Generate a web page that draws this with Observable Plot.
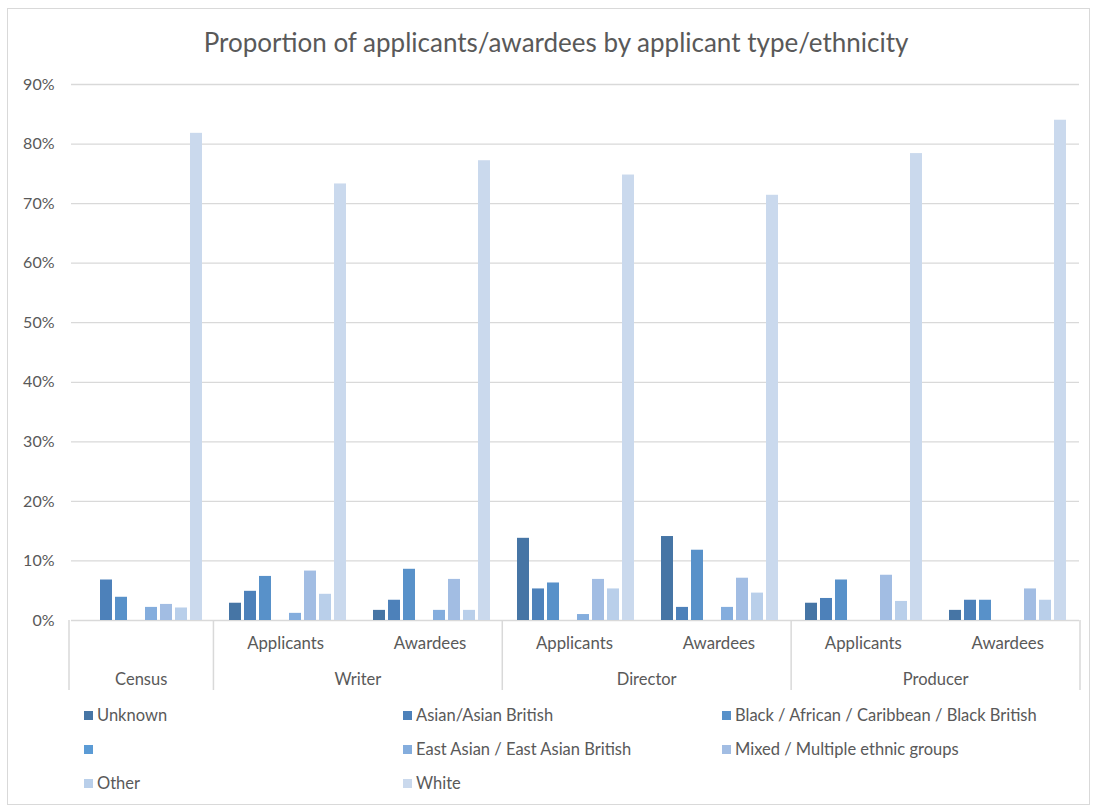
<!DOCTYPE html>
<html>
<head>
<meta charset="utf-8">
<script src="https://cdn.jsdelivr.net/npm/d3@7"></script>
<script src="https://cdn.jsdelivr.net/npm/@observablehq/plot@0.6"></script>
<style>
  html, body { margin: 0; padding: 0; background: #fff; }
  body { width: 1095px; height: 807px; position: relative; overflow: hidden;
         font-family: Lato, "Open Sans", sans-serif; color: #595959; }
  #frame { position: absolute; left: 7px; top: 8px; width: 1083px; height: 797px;
           border: 1px solid #d9d9d9; box-sizing: border-box; }
  #title { position: absolute; left: 0; top: 25px; width: 1112px; text-align: center;
           font-size: 26px; line-height: 34px; color: #595959; }
  #chart { position: absolute; left: 0; top: 0; }
  #legend { position: absolute; left: 84px; top: 705px; display: grid;
            grid-template-columns: 319px 319px 340px; grid-auto-rows: 34px; }
  .item { display: flex; align-items: center; height: 20px; font-size: 16.5px;
          white-space: nowrap; color: #595959; }
  .sw { width: 9px; height: 9px; margin-right: 4px; flex: none; }
</style>
</head>
<body>
<div id="frame"></div>
<div id="title">Proportion of applicants/awardees by applicant type/ethnicity</div>
<div id="chart"></div>
<div id="legend"></div>
<script>
// Category axis: applicant type (outer level) and stage (inner level)
const roles  = ["Census", "Writer", "Writer", "Director", "Director", "Producer", "Producer"];
const stages = ["", "Applicants", "Awardees", "Applicants", "Awardees", "Applicants", "Awardees"];

// Ethnicity series (one entry is left unnamed in the source table)
const seriesNames  = ["Unknown", "Asian/Asian British", "Black / African / Caribbean / Black British", "",
                      "East Asian / East Asian British", "Mixed / Multiple ethnic groups", "Other", "White"];
const seriesColors = ["#4675a5", "#4d81ba", "#5891c9", "#5b9bd5", "#84addd", "#a2bde3", "#b9cfea", "#cad9ed"];

// Percentages per category, in the order of the category arrays above
const unknownPct   = [0,    2.9,  1.7,  13.8, 14.1, 2.9,  1.7];
const asianPct     = [6.8,  4.9,  3.4,  5.3,  2.2,  3.7,  3.4];
const blackPct     = [3.9,  7.4,  8.6,  6.3,  11.8, 6.8,  3.4];
const unnamedPct   = [0,    0,    0,    0,    0,    0,    0];
const eastAsianPct = [2.2,  1.2,  1.7,  1.0,  2.2,  0,    0];
const mixedPct     = [2.7,  8.3,  6.9,  6.9,  7.1,  7.6,  5.3];
const otherPct     = [2.1,  4.4,  1.7,  5.3,  4.6,  3.2,  3.4];
const whitePct     = [81.8, 73.3, 77.2, 74.8, 71.4, 78.4, 84.0];

const yTicks = [0, 10, 20, 30, 40, 50, 60, 70, 80, 90];

const seriesValues = [unknownPct, asianPct, blackPct, unnamedPct, eastAsianPct, mixedPct, otherPct, whitePct];
const groupKeys = roles.map((r, i) => `${r} ${stages[i]}`.trim());

const rows = [];
groupKeys.forEach((key, gi) => {
  seriesNames.forEach((name, si) => {
    rows.push({key, series: name, value: seriesValues[si][gi]});
  });
});

const font = "Lato, 'Open Sans', sans-serif";
const textColor = "#595959";
const lineColor = "#d9d9d9";

const plot = Plot.plot({
  width: 1095,
  height: 700,
  marginLeft: 69,
  marginRight: 15,
  marginTop: 84,
  marginBottom: 80,
  style: {fontFamily: font, fontSize: "16px", color: textColor, background: "transparent", overflow: "visible"},
  facet: {data: rows, x: "key"},
  fx: {domain: groupKeys, padding: 0, axis: null, label: null},
  x: {domain: seriesNames, paddingInner: 0.216, paddingOuter: 0.83, axis: null, label: null},
  y: {domain: [0, 90], ticks: yTicks, tickFormat: d => d + "%", tickSize: 0, tickPadding: 17, label: null},
  color: {domain: seriesNames, range: seriesColors},
  marks: [
    Plot.ruleY(yTicks, {stroke: lineColor, strokeWidth: 1.3}),
    Plot.barY(rows, {x: "series", y: "value", fill: "series", filter: d => d.value > 0})
  ]
});
document.getElementById("chart").appendChild(plot);

// Two-level category axis below the bars, positioned with the plot's own scales
const fxs = plot.scale("fx");
const band = d3.scaleBand()
  .domain(fxs.domain)
  .range(fxs.range || [69, 1080])
  .paddingInner(fxs.paddingInner ?? 0)
  .paddingOuter(fxs.paddingOuter ?? 0)
  .align(fxs.align ?? 0.5);
const ys = plot.scale("y");
const yScale = d3.scaleLinear().domain(ys.domain).range(ys.range);
const y0 = yScale(0);

const axis = d3.select(plot).append("g")
  .attr("font-family", font)
  .attr("fill", textColor);

// separators between outer categories
const edges = [];
groupKeys.forEach((k, i) => {
  if (i === 0 || roles[i] !== roles[i - 1]) edges.push(band(k));
});
edges.push(band(groupKeys[groupKeys.length - 1]) + band.bandwidth());
axis.selectAll("line.sep").data(edges).join("line")
  .attr("x1", d => d).attr("x2", d => d)
  .attr("y1", y0).attr("y2", y0 + 70)
  .attr("stroke", lineColor).attr("stroke-width", 1.5);

// inner labels
axis.selectAll("text.stage").data(groupKeys.map((k, i) => ({k, t: stages[i]})).filter(d => d.t)).join("text")
  .attr("x", d => band(d.k) + band.bandwidth() / 2)
  .attr("y", y0 + 23)
  .attr("dy", "0.35em")
  .attr("text-anchor", "middle")
  .attr("font-size", 16.8)
  .text(d => d.t);

// outer labels centred under their span
const outer = Array.from(d3.group(groupKeys.map((k, i) => ({k, r: roles[i]})), d => d.r), ([r, arr]) => ({
  r,
  x: (band(arr[0].k) + band(arr[arr.length - 1].k) + band.bandwidth()) / 2
}));
axis.selectAll("text.role").data(outer).join("text")
  .attr("x", d => d.x)
  .attr("y", y0 + 59)
  .attr("dy", "0.35em")
  .attr("text-anchor", "middle")
  .attr("font-size", 16.5)
  .text(d => d.r);

// legend
const legend = d3.select("#legend");
seriesNames.forEach((name, i) => {
  const item = legend.append("div").attr("class", "item");
  item.append("div").attr("class", "sw").style("background", plot.scale("color").range[i]);
  item.append("span").text(name);
});
</script>
</body>
</html>
